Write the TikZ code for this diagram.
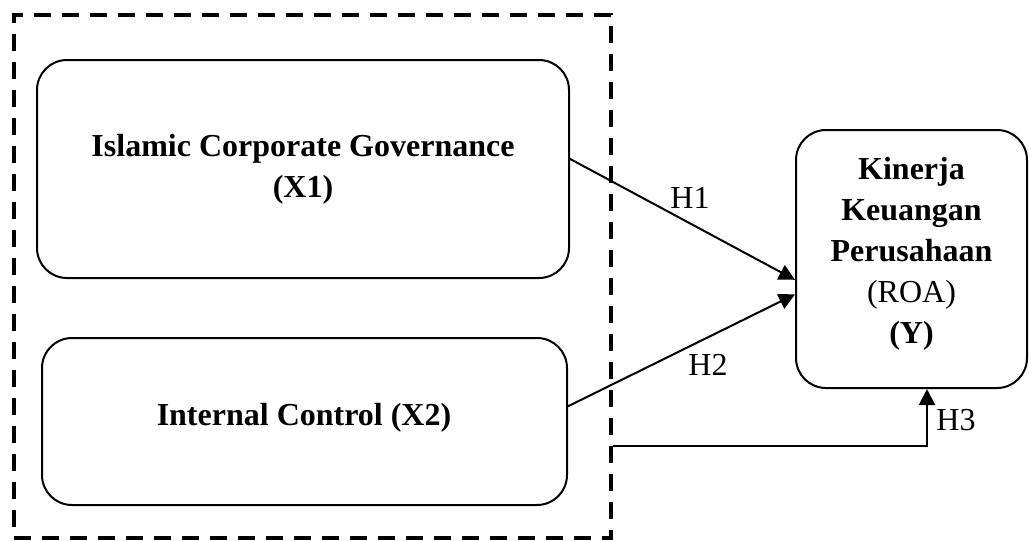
\documentclass[tikz,border=0pt]{standalone}
\usepackage{fontspec}
\setmainfont{Liberation Serif}
\usetikzlibrary{arrows.meta,calc}
\begin{document}
\begin{tikzpicture}[x=0.5pt,y=-0.5pt,
  txt/.style={font=\fontsize{16}{20.5}\selectfont, align=center},
  varbox/.style={draw, line width=1pt, rounded corners=15pt, inner sep=0pt, txt},
  grpbox/.style={draw, line width=1.6pt, dash pattern=on 8.5pt off 5.5pt, inner sep=0pt},
  arr/.style={line width=1pt, -{Triangle[length=8pt,width=8pt]}},
  hlab/.style={font=\fontsize{16}{20.5}\selectfont, inner sep=0pt}]
\useasboundingbox (0,0) rectangle (1029,541);
\node[grpbox, minimum width=298.5pt, minimum height=261.5pt] (grp) at (312.5,276.5) {};
\node[varbox, minimum width=266pt, minimum height=109pt] (b1) at (303,169)
  {\textbf{Islamic Corporate Governance}\\\textbf{(X1)}};
\node[varbox, minimum width=262.5pt, minimum height=83.5pt] (b2) at (304.5,421.5) {};
\node[txt, inner sep=0pt] (t2) at (304,418) {\textbf{Internal Control (X2)}};
\node[varbox, minimum width=115.5pt, minimum height=129pt] (y) at (911.5,259) {};
\node[txt, inner sep=0pt] (ty) at (911.5,254)
  {\textbf{Kinerja}\\\textbf{Keuangan}\\\textbf{Perusahaan}\\(ROA)\\\textbf{(Y)}};
\coordinate (s1) at ($(b1.north east)!0.454!(b1.south east)$);
\coordinate (e1) at ($(y.north west)!0.58!(y.south west)$);
\coordinate (s2) at ($(b2.north east)!0.41!(b2.south east)$);
\coordinate (e2) at ($(y.north west)!0.636!(y.south west)$);
\coordinate (h3c) at (927,446);
\draw[arr] (s1) -- (e1);
\draw[arr] (s2) -- (e2);
\draw[arr] (grp.east |- h3c) -- (h3c) -- (h3c |- y.south);
\node[hlab] (l1) at (690,198) {H1};
\node[hlab] (l2) at (708,365) {H2};
\node[hlab] (l3) at (956,420) {H3};
\end{tikzpicture}
\end{document}
